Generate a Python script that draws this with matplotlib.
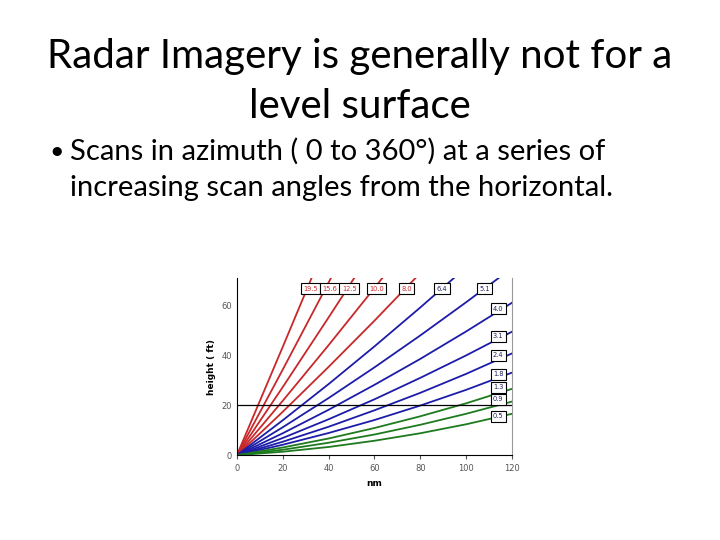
import matplotlib
matplotlib.use("Agg")
import matplotlib.pyplot as plt

# scan angles (deg) and beam height (kft) read at range steps of 20 nm
ranges = [0, 20, 40, 60, 80, 100, 120]
angles = ["19.5", "15.6", "12.5", "10.0", "8.0", "6.4", "5.1",
          "4.0", "3.1", "2.4", "1.8", "1.3", "0.9", "0.5"]
heights = {
    "19.5": [0, 43.4, 87.3],
    "15.6": [0, 34.3, 69.2, 104.5],
    "12.5": [0, 27.3, 55.2, 83.5],
    "10.0": [0, 21.8, 44.1, 67.0, 90.3],
    "8.0": [0, 17.4, 35.4, 53.9, 73.0],
    "6.4": [0, 14.0, 28.5, 43.6, 59.2, 75.3],
    "5.1": [0, 11.2, 22.9, 35.2, 48.0, 61.3, 75.0],
    "4.0": [0, 8.8, 18.2, 28.2, 38.6, 49.6, 61.1],
    "3.1": [0, 6.9, 14.4, 22.4, 31.0, 40.0, 49.5],
    "2.4": [0, 5.4, 11.4, 18.0, 25.0, 32.6, 40.8],
    "1.8": [0, 4.2, 8.9, 14.1, 19.9, 26.2, 33.1],
    "1.3": [0, 3.1, 6.7, 10.9, 15.6, 20.8, 26.6],
    "0.9": [0, 2.2, 5.0, 8.3, 12.2, 16.6, 21.5],
    "0.5": [0, 1.4, 3.3, 5.8, 8.8, 12.4, 16.6],
}
# label positions (nm, kft)
label_pos = {
    "19.5": (32, 66.8), "15.6": (40.6, 66.8), "12.5": (49, 66.8),
    "10.0": (61, 66.8), "8.0": (74, 66.8), "6.4": (89.5, 66.8),
    "5.1": (108, 66.8), "4.0": (114, 58.8), "3.1": (114, 47.6),
    "2.4": (114, 40.0), "1.8": (114, 32.4), "1.3": (114, 27.2),
    "0.9": (114, 22.4), "0.5": (114, 15.6),
}
red, blue, green = "#c8282a", "#1c1ca8", "#1e7a1e"
colors = [red] * 5 + [blue] * 6 + [green] * 3

fig = plt.figure(figsize=(7.2, 5.4), dpi=100)

fig.text(0.5, 0.895, "Radar Imagery is generally not for a", ha="center",
         va="center", fontsize=29, family="Lato")
fig.text(0.5, 0.802, "level surface", ha="center", va="center",
         fontsize=29, family="Lato")
fig.text(0.079, 0.72, "\u2022", ha="center", va="center", fontsize=18, family="Lato")
fig.text(0.097, 0.72, "Scans in azimuth ( 0 to 360\u00b0) at a series of",
         ha="left", va="center", fontsize=21, family="Lato")
fig.text(0.097, 0.651, "increasing scan angles from the horizontal.",
         ha="left", va="center", fontsize=21, family="Lato")

ax = fig.add_axes([0.329, 0.157, 0.382, 0.328])
for name, c in zip(angles, colors):
    h = heights[name]
    ax.plot(ranges[:len(h)], h, color=c, lw=1.3)
    x, y = label_pos[name]
    ax.text(x, y, name, ha="center", va="center", fontsize=4.8,
            color=c if c == red else "#202060",
            bbox=dict(boxstyle="square,pad=0.35", fc="white", ec="black", lw=0.8))

ax.axhline(20, color="black", lw=0.9)
ax.set_xlim(0, 120)
ax.set_ylim(0, 71)
ax.set_xticks([0, 20, 40, 60, 80, 100, 120])
ax.set_yticks([0, 20, 40, 60])
ax.tick_params(labelsize=6, colors="#555555", length=3)
ax.tick_params(axis="y", length=0)
for s in ["left", "bottom"]:
    ax.spines[s].set_color("black")
ax.spines["top"].set_visible(False)
ax.spines["right"].set_color("#999999")
ax.set_xlabel("nm", fontsize=6.5, fontweight="bold")
ax.set_ylabel("height ( ft)", fontsize=6.5, fontweight="bold")

fig.savefig("out.png", dpi=100)
